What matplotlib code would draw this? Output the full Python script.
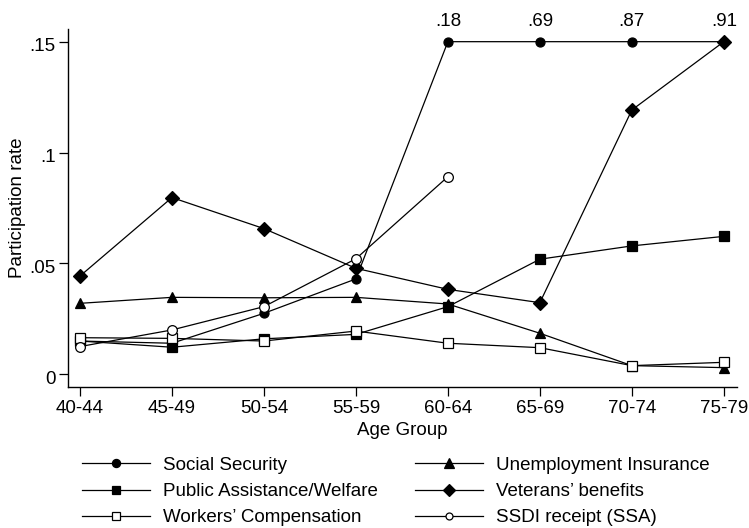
import numpy as np
import matplotlib
matplotlib.use("Agg")
import matplotlib.pyplot as plt
from matplotlib.transforms import ScaledTranslation

plt.rcParams["font.family"] = ["Liberation Sans", "DejaVu Sans"]

# ---- Data -------------------------------------------------------------------
age_groups = ["40-44", "45-49", "50-54", "55-59", "60-64", "65-69", "70-74", "75-79"]

social_security = [0.015, 0.014, 0.0275, 0.043, 0.18, 0.69, 0.87, 0.91]
unemployment    = [0.032, 0.0347, 0.0345, 0.0347, 0.0317, 0.0185, 0.0039, 0.003]
public_assist   = [0.015, 0.0122, 0.016, 0.018, 0.0305, 0.0519, 0.0579, 0.0622]
veterans        = [0.0443, 0.0797, 0.0657, 0.0478, 0.0383, 0.0323, 0.1192, 0.15]
workers_comp    = [0.0165, 0.0162, 0.015, 0.0195, 0.014, 0.012, 0.0039, 0.0054]
ssdi            = [0.0125, 0.020, 0.0305, 0.0521, 0.0891]

y_cap = 0.15          # values above this are pinned to the top and labelled
y_ticks = [0, 0.05, 0.1, 0.15]
y_ticklabels = ["0", ".05", ".1", ".15"]

FS = 13.5

# ---- Figure -----------------------------------------------------------------
fig = plt.figure(figsize=(7.49, 5.28), dpi=100)
ax = fig.add_axes([0.0908, 0.2676, 0.8928, 0.6774])

x = np.arange(len(age_groups))
ss_plot = np.minimum(social_security, y_cap)

common = dict(color="black", lw=0.9, markeredgecolor="black", markeredgewidth=0.9)

h_ss, = ax.plot(x, ss_plot, marker="o", ms=6.5, markerfacecolor="black",
                label="Social Security", **common)
h_ui, = ax.plot(x, unemployment, marker="^", ms=7.5, markerfacecolor="black",
                label="Unemployment Insurance", **common)
h_pa, = ax.plot(x, public_assist, marker="s", ms=6.5, markerfacecolor="black",
                label="Public Assistance/Welfare", **common)
h_vb, = ax.plot(x, veterans, marker="D", ms=7, markerfacecolor="black",
                label="Veterans\u2019 benefits", **common)
h_wc, = ax.plot(x, workers_comp, marker="s", ms=7, markerfacecolor="white",
                label="Workers\u2019 Compensation", **common)
h_sd, = ax.plot(x[:len(ssdi)], ssdi, marker="o", ms=7, markerfacecolor="white",
                label="SSDI receipt (SSA)", **common)

# labels for the capped Social Security points
for xi, v in zip(x, social_security):
    if v > y_cap:
        ax.annotate(f"{v:.2f}".lstrip("0"), (xi, y_cap), xytext=(0, 8.5),
                    textcoords="offset points", ha="center", va="bottom",
                    fontsize=FS, annotation_clip=False)

ax.set_xlim(-0.13, 7.14)
ax.set_ylim(-0.0056, 0.1557)
ax.set_xticks(x)
ax.set_xticklabels(age_groups)
ax.set_yticks(y_ticks)
ax.set_yticklabels(y_ticklabels)

for side in ("top", "right"):
    ax.spines[side].set_visible(False)
for side in ("left", "bottom"):
    ax.spines[side].set_linewidth(1.0)

ax.tick_params(axis="both", direction="out", length=6.5, width=0.9,
               labelsize=FS, colors="black")
ax.tick_params(axis="y", pad=2.5)
ax.tick_params(axis="x", pad=3)

# y tick labels sit a little below their ticks
shift = ScaledTranslation(0, -3 / 100, fig.dpi_scale_trans)
for lab in ax.get_yticklabels():
    lab.set_transform(lab.get_transform() + shift)

ax.set_xlabel("Age Group", fontsize=FS, labelpad=4)
ax.set_ylabel("Participation rate", fontsize=FS)
ax.yaxis.set_label_coords(-0.063, 0.5)

leg = fig.legend(handles=[h_ss, h_pa, h_wc, h_ui, h_vb, h_sd], ncol=2,
                 loc="upper left", bbox_to_anchor=(0.1, 0.149),
                 frameon=False, fontsize=FS, handlelength=3.6,
                 handletextpad=0.7, columnspacing=2.0, labelspacing=0.48,
                 markerscale=0.9, borderaxespad=0)
# the open circle is drawn smaller in the key
leg.legend_handles[5].set_markersize(5)

fig.savefig("out.png", dpi=100)
